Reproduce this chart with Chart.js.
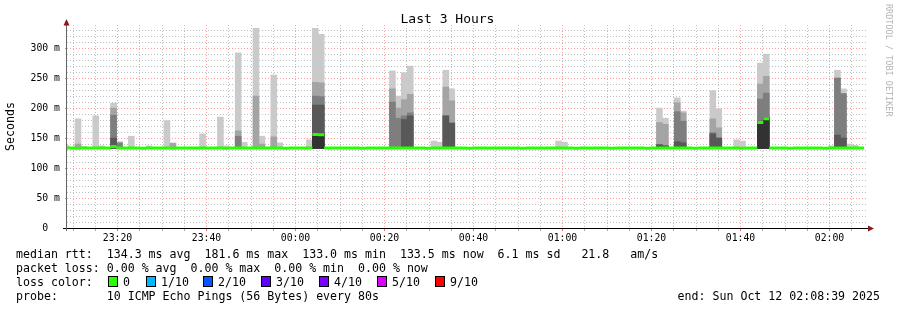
<!DOCTYPE html>
<html>
<head>
<meta charset="utf-8">
<script src="https://cdn.jsdelivr.net/npm/chart.js@4.4.1/dist/chart.umd.min.js"></script>
<style>
  html, body { margin: 0; padding: 0; background: #fff; }
  #wrap { position: relative; width: 897px; height: 310px; overflow: hidden;
          font-family: "DejaVu Sans Mono", monospace; color: #000; }
  #wrap canvas { position: absolute; left: 0; top: 0; }
  .t { position: absolute; white-space: pre; font-size: 11.6px; line-height: 14px; }
  .box { position: absolute; width: 8px; height: 9px; border: 1px solid #000; }
</style>
</head>
<body>
<div id="wrap">
  <canvas id="chartCanvas" width="897" height="310"></canvas>
  <div class="t" style="left:0;width:895px;text-align:center;top:11px;font-size:13px;line-height:16px;">Last 3 Hours</div>
  <div class="t" style="left:894px;top:4px;font-size:8.5px;line-height:10px;color:#b4b4b4;transform:rotate(90deg);transform-origin:0 0;">RRDTOOL / TOBI OETIKER</div>
  <div class="t" style="left:16px;top:247px;">median rtt:  134.3 ms avg  181.6 ms max  133.0 ms min  133.5 ms now  6.1 ms sd   21.8   am/s</div>
  <div class="t" style="left:16px;top:261px;">packet loss: 0.00 % avg  0.00 % max  0.00 % min  0.00 % now</div>
  <div class="t" style="left:16px;top:275px;" id="lossLine">loss color:</div>
  <div class="t" style="left:16px;top:289px;">probe:       10 ICMP Echo Pings (56 Bytes) every 80s</div>
  <div class="t" style="right:17px;top:289px;">end: Sun Oct 12 02:08:39 2025</div>
</div>

<script>
// ---- data ----
// window: 23:08:39 .. 02:08:39, one ping step every 80 s
const stepSeconds = 80;
const firstStepStartSec = -52;   // step 0 starts 52 s before the left edge

// median rtt per step (ms), 135 steps
const medianRtt = [
  133.4, 133.6, 133.0, 133.5, 133.5, 133.2, 133.6, 133.5, 136.0, 133.2, 133.4, 133.6, 133.5, 133.0, 133.4,
  133.6, 133.5, 133.3, 133.0, 133.5, 133.6, 133.4, 133.5, 133.2, 133.6, 133.5, 133.4, 133.0, 133.5, 133.6,
  133.4, 133.5, 133.6, 133.2, 133.5, 133.4, 133.6, 133.0, 133.5, 133.4, 133.6, 133.5, 156.0, 155.5, 133.4,
  133.5, 133.2, 133.6, 133.5, 133.4, 133.0, 133.5, 133.6, 133.4, 133.5, 133.6, 133.3, 133.5, 133.4, 133.6,
  133.5, 133.0, 133.4, 133.6, 133.5, 133.5, 133.4, 133.6, 133.0, 133.5, 133.6, 133.6, 133.5, 133.4, 133.6,
  133.5, 133.6, 133.0, 133.4, 133.5, 133.6, 133.6, 133.5, 133.4, 133.6, 133.5, 133.0, 133.5, 133.6, 133.4,
  133.5, 133.6, 133.0, 133.5, 133.4, 133.6, 133.5, 133.5, 133.0, 133.6, 133.4, 133.5, 133.6, 133.4, 133.5,
  133.6, 133.0, 133.5, 133.4, 133.6, 133.5, 133.5, 133.4, 133.6, 133.0, 133.5, 133.5, 176.0, 182.0, 133.4,
  133.6, 133.5, 133.0, 133.5, 133.4, 133.6, 133.5, 133.5, 133.0, 133.6, 133.4, 133.5, 133.6, 133.5, 133.4
];

// steps with visible smoke and the sorted ping levels bounding each grey band
const pingFloor = 132.5;
const smokeSteps = [0, 2, 3, 5, 6, 8, 9, 11, 14, 17, 18, 23, 26, 27, 29, 30, 32, 33, 35, 36, 41, 42, 43,
                    55, 56, 57, 58, 62, 63, 64, 65, 83, 84,
                    100, 101, 103, 104, 109, 110, 113, 114, 117, 118,
                    129, 130, 131, 132, 133];
const ping10 = [138, 182, 136, 187, 137, 208, 144, 153, 137, 179, 142, 157, 185, 137, 292, 143, 333, 153, 255, 142, 147, 333, 323,
                262, 220, 259, 270, 145, 143, 263, 232, 145, 143,
                200, 183, 217, 195, 229, 199, 147, 145, 275, 290,
                137, 263, 232, 140, 138];
const ping9  = [null, 140, null, null, null, 200, 143, null, null, null, 141, null, null, null, 162, null, 220, 140, 152, null, null, 243, 242,
                232, 200, 214, 223, null, null, 235, 212, null, null,
                176, 173, 209, 192, 182, 167, null, null, 240, 253,
                null, 250, 224, null, null];
const ping8  = [null, null, null, null, null, 188, 141, null, null, null, null, null, null, null, 153, null, null, null, null, null, null, 220, 219,
                210, 183, 187, 192, null, null, 187, 175, null, null,
                139, 137, 194, 178, 159, 150, null, null, 215, 225,
                null, 250, 224, null, null];
const ping7  = [null, null, null, null, null, 150, null, null, null, null, null, null, null, null, null, null, null, null, null, null, null, 205, 205,
                null, null, 181, 187, null, null, 187, 175, null, null,
                139, 137, 144, 142, 157, 150, null, null, 178, 184,
                null, 155, 150, null, null];
const ping6  = [null, null, null, null, null, null, null, null, null, null, null, null, null, null, null, null, null, null, null, null, null, 157, 157,
                null, null, null, null, null, null, null, null, null, null,
                null, null, null, null, null, null, null, null, 178, 184,
                null, null, null, null, null];

// axis labels
const timeLabels = ['23:20', '23:40', '00:00', '00:20', '00:40', '01:00', '01:20', '01:40', '02:00'];
const firstMajorMin = 11 + 21 / 60;      // 23:20:00 is 11:21 after the left edge
const yLabelValues = [0, 50, 100, 150, 200, 250, 300];
const yLabelText = ['0  ', '50 m', '100 m', '150 m', '200 m', '250 m', '300 m'];

const lossLabels = ['0', '1/10', '2/10', '3/10', '4/10', '5/10', '9/10'];
const lossColors = ['#26ff00', '#00b8ff', '#0059ff', '#5e00ff', '#7e00ff', '#dd00ff', '#ff0000'];

// ---- helpers ----
function stepStart(i) {
  return (firstStepStartSec + stepSeconds * i) / 60;
}
function stepCenter(i) {
  return stepStart(i) + stepSeconds / 120;
}

function bandData(levels) {
  return smokeSteps
    .map((s, k) => levels[k] == null ? null : { x: stepCenter(s), y: [pingFloor, levels[k]] })
    .filter(Boolean);
}

// one flat segment per step, broken between steps (rrdtool draws no risers)
function medianSegments() {
  const pts = [];
  medianRtt.forEach((v, i) => {
    pts.push({ x: stepStart(i), y: v });
    pts.push({ x: stepStart(i + 1), y: v });
    pts.push({ x: stepStart(i + 1), y: null });
  });
  return pts;
}

function isMajorTime(v) {
  const k = (v - firstMajorMin) / 20;
  return Math.abs(k - Math.round(k)) < 1e-6;
}

// legend boxes
const boxX = [108, 146, 203, 261, 319, 377, 435];
const labelX = [123, 161, 218, 276, 334, 392, 450];
const wrap = document.getElementById('wrap');
lossLabels.forEach((lab, i) => {
  const b = document.createElement('div');
  b.className = 'box';
  b.style.left = boxX[i] + 'px';
  b.style.top = '276px';
  b.style.background = lossColors[i];
  wrap.appendChild(b);
  const t = document.createElement('div');
  t.className = 't';
  t.style.left = labelX[i] + 'px';
  t.style.top = '275px';
  t.textContent = lab;
  wrap.appendChild(t);
});

const bands = [
  { levels: ping10, color: '#cacaca' },
  { levels: ping9,  color: '#a4a4a4' },
  { levels: ping8,  color: '#7e7e7e' },
  { levels: ping7,  color: '#585858' },
  { levels: ping6,  color: '#323232' }
];

const datasets = bands.map((b, i) => ({
  type: 'bar',
  data: bandData(b.levels),
  backgroundColor: b.color,
  borderWidth: 0,
  grouped: false,
  barPercentage: 1,
  categoryPercentage: 1,
  clip: 0,
  order: 10 - i
}));

datasets.push({
  type: 'line',
  data: medianSegments(),
  borderColor: lossColors[0],
  borderWidth: 3,
  borderCapStyle: 'butt',
  pointRadius: 0,
  spanGaps: false,
  fill: false,
  clip: 0,
  order: 0
});

// axis lines + arrows the way rrdtool draws them
const axisArrows = {
  id: 'axisArrows',
  afterDraw(c) {
    const { ctx, chartArea: a } = c;
    ctx.save();
    ctx.lineWidth = 1;
    ctx.strokeStyle = '#000';
    ctx.beginPath();
    ctx.moveTo(a.left - 4, a.bottom + 0.5);
    ctx.lineTo(a.right + 2, a.bottom + 0.5);
    ctx.stroke();
    ctx.strokeStyle = '#666';
    ctx.beginPath();
    ctx.moveTo(a.left - 0.5, a.top - 2);
    ctx.lineTo(a.left - 0.5, a.bottom + 3);
    ctx.stroke();
    ctx.fillStyle = '#8b1a1a';
    ctx.beginPath();
    ctx.moveTo(a.left - 0.5, a.top - 6);
    ctx.lineTo(a.left - 3.5, a.top + 0.5);
    ctx.lineTo(a.left + 2.5, a.top + 0.5);
    ctx.closePath();
    ctx.fill();
    ctx.beginPath();
    ctx.moveTo(a.right + 6, a.bottom + 0.5);
    ctx.lineTo(a.right, a.bottom - 2.5);
    ctx.lineTo(a.right, a.bottom + 3.5);
    ctx.closePath();
    ctx.fill();
    ctx.restore();
  }
};

const minorGrid = 'rgba(140,140,140,0.55)';
const majorGrid = 'rgba(255,0,0,0.38)';
const tickFont = { family: 'DejaVu Sans Mono', size: 9.8 };

const chart = new Chart(document.getElementById('chartCanvas').getContext('2d'), {
  data: { datasets },
  options: {
    responsive: false,
    animation: false,
    events: [],
    layout: { padding: { top: 25, right: 29, left: 0, bottom: 0 } },
    plugins: { legend: { display: false }, tooltip: { enabled: false }, title: { display: false } },
    scales: {
      x: {
        type: 'linear',
        min: 0,
        max: 180,
        offset: false,
        afterBuildTicks: (s) => {
          const marks = [];
          for (let v = firstMajorMin - 10; v <= 180; v += 5) marks.push({ value: v });
          s.ticks = marks;
        },
        afterFit: (s) => { s.height = 82; },
        ticks: {
          autoSkip: false,
          maxRotation: 0,
          minRotation: 0,
          padding: 2,
          color: '#000',
          font: tickFont,
          callback: (v) => isMajorTime(v) ? (timeLabels[Math.round((v - firstMajorMin) / 20)] || '') : ''
        },
        grid: {
          offset: false,
          drawTicks: true,
          tickLength: 3,
          lineWidth: 1,
          color: (ctx) => isMajorTime(ctx.tick.value) ? majorGrid : minorGrid,
          tickColor: (ctx) => isMajorTime(ctx.tick.value) ? 'rgba(255,0,0,0.6)' : 'rgba(120,120,120,0.6)'
        },
        border: { display: false, dash: [1, 2] }
      },
      y: {
        min: 0,
        max: 338.5,
        afterFit: (s) => { s.width = 67; },
        title: {
          display: true,
          text: 'Seconds',
          color: '#000',
          font: { family: 'DejaVu Sans Mono', size: 11.6 },
          padding: { top: 4, bottom: 0 }
        },
        ticks: {
          stepSize: 10,
          includeBounds: false,
          autoSkip: false,
          padding: 5,
          color: '#000',
          font: tickFont,
          callback: (v) => {
            const k = yLabelValues.indexOf(Math.round(v));
            return k >= 0 ? yLabelText[k] : '';
          }
        },
        grid: {
          drawTicks: true,
          tickLength: 2,
          lineWidth: 1,
          color: (ctx) => Math.round(ctx.tick.value) % 50 === 0 ? majorGrid : minorGrid,
          tickColor: (ctx) => Math.round(ctx.tick.value) % 50 === 0 ? 'rgba(255,0,0,0.5)' : 'rgba(0,0,0,0)'
        },
        border: { display: false, dash: [1, 2] }
      }
    }
  },
  plugins: [axisArrows]
});
</script>
</body>
</html>
